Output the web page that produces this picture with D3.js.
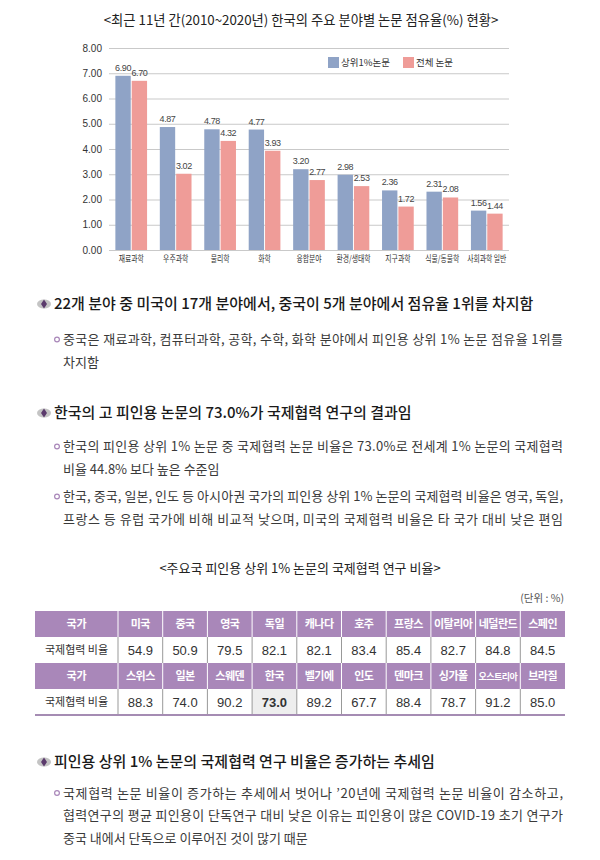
<!DOCTYPE html>
<html><head><meta charset="utf-8">
<script src="https://cdn.jsdelivr.net/npm/d3@7"></script>
<style>body{margin:0;background:#fff} svg{display:block}</style>
</head><body>
<svg id="c" width="600" height="860"></svg>
<script>
// ---------- data ----------
const chartTitle = "<최근 11년 간(2010~2020년) 한국의 주요 분야별 논문 점유율(%) 현황>";
const categories = ["재료과학","우주과학","물리학","화학","융합분야","환경/생태학","지구과학","식물/동물학","사회과학 일반"];
const top1Share = [6.90,4.87,4.78,4.77,3.20,2.98,2.36,2.31,1.56];
const allShare  = [6.70,3.02,4.32,3.93,2.77,2.53,1.72,2.08,1.44];
const seriesNames = ["상위1%논문","전체 논문"];
const yTickValues = [0,1,2,3,4,5,6,7,8];

const tableTitle = "<주요국 피인용 상위 1% 논문의 국제협력 연구 비율>";
const tableUnit = "(단위 : %)";
const rowLabels = ["국가","국제협력 비율"];
const countriesA = ["미국","중국","영국","독일","캐나다","호주","프랑스","이탈리아","네덜란드","스페인"];
const ratesA = [54.9,50.9,79.5,82.1,82.1,83.4,85.4,82.7,84.8,84.5];
const countriesB = ["스위스","일본","스웨덴","한국","벨기에","인도","덴마크","싱가폴","오스트리아","브라질"];
const ratesB = [88.3,74.0,90.2,73.0,89.2,67.7,88.4,78.7,91.2,85.0];
const highlightCountry = "한국";

const heading1 = "22개 분야 중 미국이 17개 분야에서, 중국이 5개 분야에서 점유율 1위를 차지함";
const bullet1a = ["중국은 재료과학, 컴퓨터과학, 공학, 수학, 화학 분야에서 피인용 상위 1% 논문 점유율 1위를","차지함"];
const heading2 = "한국의 고 피인용 논문의 73.0%가 국제협력 연구의 결과임";
const bullet2a = ["한국의 피인용 상위 1% 논문 중 국제협력 논문 비율은 73.0%로 전세계 1% 논문의 국제협력","비율 44.8% 보다 높은 수준임"];
const bullet2b = ["한국, 중국, 일본, 인도 등 아시아권 국가의 피인용 상위 1% 논문의 국제협력 비율은 영국, 독일,","프랑스 등 유럽 국가에 비해 비교적 낮으며, 미국의 국제협력 비율은 타 국가 대비 낮은 편임"];
const heading3 = "피인용 상위 1% 논문의 국제협력 연구 비율은 증가하는 추세임";
const bullet3a = ["국제협력 논문 비율이 증가하는 추세에서 벗어나 ’20년에 국제협력 논문 비율이 감소하고,","협력연구의 평균 피인용이 단독연구 대비 낮은 이유는 피인용이 많은 COVID-19 초기 연구가","중국 내에서 단독으로 이루어진 것이 많기 때문"];

// ---------- style ----------
const KR = "'Noto Sans CJK KR','Noto Sans',sans-serif";
const NUM = "'Liberation Sans Narrow','Liberation Sans',Arial,sans-serif";
const colBlue = "#8FA3C6", colPink = "#EF9C98", purple = "#A987B9";

const svg = d3.select("#c");

// title
svg.append("text").attr("x",301).attr("y",25).attr("text-anchor","middle")
  .style("font-family",KR).style("font-size","13.3px").attr("fill","#222").text(chartTitle);

// ---------- bar chart ----------
const x0 = d3.scaleBand().domain(categories).range([109,509]);
const x1 = d3.scaleBand().domain([0,1]).range([0,x0.bandwidth()]).paddingInner(0.06).paddingOuter(0.39);
const y = d3.scaleLinear().domain([0,8]).range([250,48]);

const gy = svg.append("g").attr("transform","translate(109,0)")
  .call(d3.axisLeft(y).tickValues(yTickValues).tickSize(-400).tickPadding(7).tickFormat(d3.format(".2f")));
gy.select(".domain").remove();
gy.selectAll("line").attr("stroke","#c9c9c9");
gy.selectAll("text").style("font-family",NUM).style("font-size","10px").attr("fill","#333");

const gx = svg.append("g").attr("transform","translate(0,250)")
  .call(d3.axisBottom(x0).tickSize(0).tickPadding(6));
gx.select(".domain").remove();
gx.selectAll("text").style("font-family",KR).style("font-size","9px").attr("fill","#333")
  .attr("transform","scale(0.76,1)");

const series = [top1Share, allShare];
const colors = [colBlue, colPink];
series.forEach((vals,si)=>{
  const g = svg.append("g");
  g.selectAll("rect").data(categories).join("rect")
    .attr("x",(c)=>x0(c)+x1(si)).attr("width",x1.bandwidth())
    .attr("y",(c,i)=>y(vals[i])).attr("height",(c,i)=>y(0)-y(vals[i]))
    .attr("fill",colors[si]);
  g.selectAll("text").data(categories).join("text")
    .attr("x",(c)=>x0(c)+x1(si)+x1.bandwidth()/2)
    .attr("y",(c,i)=>y(vals[i])-5)
    .attr("text-anchor","middle")
    .style("font-family",NUM).style("font-size","9px").style("letter-spacing","-0.4px")
    .attr("fill","#444")
    .text((c,i)=>d3.format(".2f")(vals[i]));
});

// legend
const legX = [328,403];
seriesNames.forEach((n,i)=>{
  svg.append("rect").attr("x",legX[i]).attr("y",57).attr("width",11).attr("height",11).attr("fill",colors[i]);
  svg.append("text").attr("x",legX[i]+13).attr("y",66).style("font-family",KR).style("font-size","9.5px")
    .attr("fill","#333").text(n);
});

// ---------- text blocks ----------
function heading(txt, yb){
  const cy = yb-5;
  svg.append("ellipse").attr("cx",44).attr("cy",cy).attr("rx",7).attr("ry",4.5).attr("fill","#c4c4c4");
  svg.append("path").attr("d",`M44,${cy-4.5}L47,${cy}L44,${cy+4.5}L41,${cy}Z`).attr("fill","#5b3a6c");
  svg.append("text").attr("x",54).attr("y",yb).style("font-family",KR).style("font-size","15px")
    .style("font-weight","500").attr("fill","#1a1a1a").text(txt);
}
function bullet(lines, yb, justifyCount){
  svg.append("circle").attr("cx",57).attr("cy",yb-4.5).attr("r",2.4).attr("fill","none")
    .attr("stroke","#a987b9").attr("stroke-width",1.2);
  lines.forEach((l,i)=>{
    const t = svg.append("text").attr("x",63).attr("y",yb+i*22.5).style("font-family",KR)
      .style("font-size","13px").attr("fill","#3a3a3a").text(l);
    if(i<justifyCount) t.attr("textLength",500).attr("lengthAdjust","spacing");
  });
}
heading(heading1, 309);
bullet(bullet1a, 344, 1);
heading(heading2, 418);
bullet(bullet2a, 451, 1);
bullet(bullet2b, 501, 2);
heading(heading3, 767);
bullet(bullet3a, 797.5, 2);

// ---------- table ----------
svg.append("text").attr("x",300).attr("y",572.5).attr("text-anchor","middle")
  .style("font-family",KR).style("font-size","13px").attr("fill","#222").text(tableTitle);
svg.append("text").attr("x",564).attr("y",602).attr("text-anchor","end")
  .style("font-family",KR).style("font-size","10.5px").attr("fill","#555").text(tableUnit);

const cx = d3.scaleBand().domain(d3.range(countriesA.length)).range([118,565]);
const rowsY = [611,637,663,689];
const rowH = 26;
const blocks = [[countriesA,ratesA],[countriesB,ratesB]];
blocks.forEach(([cs,rs],bi)=>{
  const hy = rowsY[bi*2], dy = rowsY[bi*2+1];
  svg.append("rect").attr("x",35).attr("y",hy).attr("width",530).attr("height",rowH).attr("fill",purple);
  svg.append("text").attr("x",76.5).attr("y",hy+rowH/2+4).attr("text-anchor","middle")
    .style("font-family",KR).style("font-size","11px").style("font-weight","700").attr("fill","#fff").text(rowLabels[0]);
  svg.append("text").attr("x",76.5).attr("y",dy+rowH/2+4).attr("text-anchor","middle")
    .style("font-family",KR).style("font-size","11px").attr("fill","#333").text(rowLabels[1]);
  cs.forEach((c,i)=>{
    const x = cx(i), w = cx.bandwidth();
    if(c===highlightCountry){
      svg.append("rect").attr("x",x).attr("y",dy).attr("width",w).attr("height",rowH).attr("fill","#eeeeee");
    }
    svg.append("text").attr("x",x+w/2).attr("y",hy+rowH/2+4).attr("text-anchor","middle")
      .style("font-family",KR).style("font-size", c.length>=5?"9px":"11px").style("font-weight","700")
      .style("letter-spacing","-0.5px").attr("fill","#fff").text(c);
    svg.append("text").attr("x",x+w/2).attr("y",dy+rowH/2+4.5).attr("text-anchor","middle")
      .style("font-family",NUM).style("font-size","13px").style("font-weight",c===highlightCountry?"700":"400")
      .attr("fill","#333").text(d3.format(".1f")(rs[i]));
  });
  const bounds = d3.range(countriesA.length).map(i=>cx(i));
  svg.append("g").selectAll("line").data(bounds).join("line")
    .attr("x1",d=>d).attr("x2",d=>d).attr("y1",hy).attr("y2",hy+rowH).attr("stroke","#fff").attr("stroke-width",1);
  svg.append("g").selectAll("line").data(bounds).join("line")
    .attr("x1",d=>d).attr("x2",d=>d).attr("y1",dy).attr("y2",dy+rowH).attr("stroke","#999").attr("stroke-width",1);
});
svg.append("line").attr("x1",35).attr("x2",565).attr("y1",715).attr("y2",715).attr("stroke","#a58cb3").attr("stroke-width",2);
</script>
</body></html>
